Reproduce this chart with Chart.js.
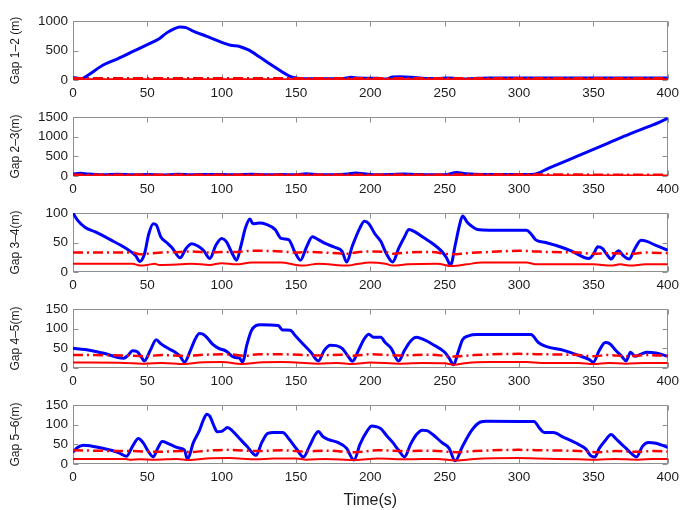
<!DOCTYPE html>
<html>
<head>
<meta charset="utf-8">
<script src="https://cdn.jsdelivr.net/npm/chart.js@4/dist/chart.umd.min.js"></script>
<style>
  html, body { margin: 0; padding: 0; background: #fff; }
  #wrap { position: relative; width: 684px; height: 510px; overflow: hidden; }
  .panel { position: absolute; left: 0; width: 684px; }
</style>
</head>
<body>
<div id="wrap"></div>
<script>
// ---- shared time axis ----
const timeTicks = [0, 50, 100, 150, 200, 250, 300, 350, 400];
const timeTitle = 'Time(s)';

// ---- Gap 1–2 ----
const gap12Title = 'Gap 1\u20132 (m)';
const gap12Ticks = [0, 500, 1000];
const gap12ActualT = [0,3,6,10,20,30,40,50,58,63,68,72,76,80,90,100,106,112,118,125,132,140,146,150,155,165,175,182,187,192,200,205,210,215,220,228,235,245,252,258,263,270,280,300,350,400];
const gap12ActualV = [40,30,25,80,250,360,480,600,700,800,870,900,890,840,740,640,590,570,510,400,280,150,60,35,20,20,20,25,45,35,30,30,15,50,55,45,30,25,35,25,15,25,35,35,35,35];
const gap12SafeT = [0,100,200,300,400];
const gap12SafeV = [28,30,29,31,29];
const gap12MinT = [0,100,200,300,400];
const gap12MinV = [12,13,12,14,12];

// ---- Gap 2–3 ----
const gap23Title = 'Gap 2\u20133(m)';
const gap23Ticks = [0, 500, 1000, 1500];
const gap23ActualT = [0,5,10,20,30,40,50,60,70,80,90,100,110,120,130,140,150,157,165,175,185,190,196,205,215,222,230,240,250,258,265,275,290,305,310,320,340,360,375,390,400];
const gap23ActualV = [50,70,50,30,45,30,40,25,45,35,40,40,30,45,30,40,30,60,35,30,50,75,55,30,40,50,40,30,30,90,55,40,40,40,45,200,520,840,1080,1300,1470];
const gap23SafeT = [0,100,200,300,400];
const gap23SafeV = [33,35,34,36,33];
const gap23MinT = [0,100,200,300,400];
const gap23MinV = [13,15,14,16,13];

// ---- Gap 3–4 ----
const gap34Title = 'Gap 3\u20134(m)';
const gap34Ticks = [0, 50, 100];
const gap34ActualT = [0,3,8,15,25,35,42,45,48,51,54,56,59,63,67,72,76,80,84,88,92,96,100,103,107,110,113,116,119,121,125,130,136,140,145,149,153,157,161,165,170,176,181,184,188,193,196,199,203,207,211,215,219,223,226,230,236,242,248,251,254,257,260,262,265,268,272,280,305,308,311,318,325,335,347,350,353,356,359,362,365,367,370,374,378,382,386,392,400];
const gap34ActualV = [100,88,76,68,55,41,28,18,30,65,82,80,60,50,40,24,40,48,44,36,23,45,57,52,32,20,45,75,90,82,83,81,72,57,55,35,20,42,60,55,48,42,35,17,45,75,86,82,65,52,30,17,40,60,72,68,58,48,35,25,12,45,80,95,85,78,72,71,71,65,55,50,45,36,23,30,43,40,30,22,32,36,28,22,40,54,52,45,37];
const gap34SafeT = [0,15,40,45,50,60,72,80,92,100,110,120,140,150,160,185,190,200,210,215,225,240,255,265,280,300,310,320,340,350,360,375,385,400];
const gap34SafeV = [33,33,33,30,31,33,34,35,33,34,34,36,35,33,34,31,33,35,34,31,33,34,30,32,34,36,35,34,33,31,32,31,33,32];
const gap34MinT = [0,40,45,50,55,58,72,80,92,100,110,120,140,150,155,165,185,190,200,210,215,225,245,255,265,275,305,312,350,362,368,375,385,400];
const gap34MinV = [14,14,11,12,14,12,13,14,12,15,13,16,16,12,11,14,11,13,16,14,11,13,14,10,13,16,16,13,13,11,13,11,13,13];

// ---- Gap 4–5 ----
const gap45Title = 'Gap 4\u20135(m)';
const gap45Ticks = [0, 50, 100, 150];
const gap45ActualT = [0,8,20,34,37,40,43,46,48,52,56,59,63,68,72,75,79,82,85,87,90,94,98,103,107,110,112,114,117,120,123,126,138,141,146,150,155,160,165,169,173,177,181,185,188,192,196,199,202,207,210,214,219,223,227,231,236,242,250,253,256,259,262,266,272,308,313,318,330,343,347,350,354,358,361,365,369,372,375,378,382,386,392,400];
const gap45ActualV = [50,47,38,25,32,44,42,28,18,45,72,62,52,42,30,15,45,72,88,87,78,60,50,43,30,26,25,15,60,95,108,110,108,97,96,80,60,40,18,45,58,57,50,30,17,45,75,86,78,78,65,50,18,45,68,78,72,60,40,25,8,40,72,82,85,85,65,55,45,28,22,15,45,65,62,45,30,18,40,30,35,40,38,30];
const gap45SafeT = [0,35,48,60,75,90,105,115,125,140,165,180,188,200,220,240,256,270,300,315,340,350,360,372,385,400];
const gap45SafeV = [33,32,30,33,31,34,35,31,35,35,32,34,31,35,32,34,29,33,36,35,33,30,33,30,33,31];
const gap45MinT = [0,35,48,60,75,85,100,114,125,140,150,165,178,188,200,220,235,250,256,265,280,305,315,340,350,360,372,385,400];
const gap45MinV = [14,13,11,13,10,14,15,10,14,15,14,11,13,10,14,11,13,12,8,13,15,15,13,13,10,13,11,13,13];

// ---- Gap 5–6 ----
const gap56Title = 'Gap 5\u20136(m)';
const gap56Ticks = [0, 50, 100, 150];
const gap56ActualT = [0,3,7,12,20,30,36,40,44,47,51,54,57,60,64,68,72,75,77,81,85,88,90,92,95,97,100,104,107,112,117,123,127,131,135,141,145,150,155,159,163,165,168,172,178,184,189,193,198,201,204,207,211,215,219,223,227,231,235,238,242,248,253,257,262,268,274,278,310,314,317,323,330,340,345,348,351,354,358,362,365,369,372,376,379,383,387,392,396,400];
const gap56ActualV = [30,42,48,46,40,30,20,45,65,55,30,18,40,57,52,45,40,35,12,55,85,115,127,122,95,82,83,93,85,65,45,22,55,78,80,80,65,40,18,45,75,83,70,62,55,40,10,50,85,97,95,90,72,55,35,18,50,75,86,85,75,55,40,8,45,85,107,109,108,90,80,80,68,50,38,22,18,40,60,75,65,50,40,25,18,45,55,53,48,42];
const gap56SafeT = [0,35,40,55,75,78,90,105,123,140,155,170,190,205,225,240,258,270,300,315,340,352,365,380,390,400];
const gap56SafeV = [35,33,33,31,33,30,34,36,33,35,32,34,30,35,33,34,30,33,36,35,33,30,33,31,33,32];
const gap56MinT = [0,35,38,45,55,70,78,90,105,123,135,150,157,170,190,205,225,245,258,270,300,312,340,352,365,380,390,400];
const gap56MinV = [13,13,11,12,11,13,10,14,15,12,14,14,11,13,10,14,12,13,9,13,15,14,12,11,13,11,13,13];

// ---- layout constants ----
const PAD_LEFT = 4, PLOT_LEFT = 73, PLOT_RIGHT = 672, PLOT_H = 63, PAD_TOP = 9;
const AXIS_GRAY = '#8f8f8f';
const TEXT_COLOR = '#1c1c1c';
const FONT = "'Liberation Sans', Arial, Helvetica, sans-serif";
const TICK_FONT = { family: FONT, size: 13.5 };

const zip = (t, v) => t.map((x, i) => ({ x, y: v[i] }));

// MATLAB-style box with inward tick marks on all four sides
const boxTicks = {
  id: 'boxTicks',
  beforeDatasetsDraw(chart) {
    const { ctx, chartArea: a, scales: { x, y } } = chart;
    ctx.save();
    ctx.strokeStyle = AXIS_GRAY;
    ctx.lineWidth = 1;
    const L = Math.round(a.left) + 0.5, R = Math.round(a.right) - 0.5;
    const T = Math.round(a.top) + 0.5, B = Math.round(a.bottom) - 0.5;
    ctx.strokeRect(L, T, R - L, B - T);
    ctx.beginPath();
    x.ticks.forEach(t => {
      const px = Math.round(x.getPixelForValue(t.value)) + 0.5;
      ctx.moveTo(px, B); ctx.lineTo(px, B - 5);
      ctx.moveTo(px, T); ctx.lineTo(px, T + 5);
    });
    y.ticks.forEach(t => {
      const py = Math.round(y.getPixelForValue(t.value)) + 0.5;
      ctx.moveTo(L, py); ctx.lineTo(L + 5, py);
      ctx.moveTo(R, py); ctx.lineTo(R - 5, py);
    });
    ctx.stroke();
    ctx.restore();
  }
};

const panels = [
  { title: gap12Title, ticks: gap12Ticks, a: [gap12ActualT, gap12ActualV], s: [gap12SafeT, gap12SafeV], m: [gap12MinT, gap12MinV] },
  { title: gap23Title, ticks: gap23Ticks, a: [gap23ActualT, gap23ActualV], s: [gap23SafeT, gap23SafeV], m: [gap23MinT, gap23MinV] },
  { title: gap34Title, ticks: gap34Ticks, a: [gap34ActualT, gap34ActualV], s: [gap34SafeT, gap34SafeV], m: [gap34MinT, gap34MinV] },
  { title: gap45Title, ticks: gap45Ticks, a: [gap45ActualT, gap45ActualV], s: [gap45SafeT, gap45SafeV], m: [gap45MinT, gap45MinV] },
  { title: gap56Title, ticks: gap56Ticks, a: [gap56ActualT, gap56ActualV], s: [gap56SafeT, gap56SafeV], m: [gap56MinT, gap56MinV] }
];

const wrap = document.getElementById('wrap');
const plain = v => String(v);

panels.forEach((p, i) => {
  const last = i === panels.length - 1;
  const plotTop = 17 + 96 * i;
  const xAxisH = last ? 46 : 25;
  const height = PAD_TOP + PLOT_H + xAxisH;

  const div = document.createElement('div');
  div.className = 'panel';
  div.style.top = (plotTop - PAD_TOP) + 'px';
  div.style.height = height + 'px';
  const canvas = document.createElement('canvas');
  div.appendChild(canvas);
  wrap.appendChild(div);

  const yMax = p.ticks[p.ticks.length - 1];

  new Chart(canvas, {
    type: 'line',
    data: {
      datasets: [
        { data: zip(p.s[0], p.s[1]), borderColor: '#ff0000', borderWidth: 2.5, borderDash: [10, 4, 2, 4], pointRadius: 0, cubicInterpolationMode: 'monotone' },
        { data: zip(p.m[0], p.m[1]), borderColor: '#ff0000', borderWidth: 2, pointRadius: 0, cubicInterpolationMode: 'monotone' },
        { data: zip(p.a[0], p.a[1]), borderColor: '#0000ff', borderWidth: 3, pointRadius: 0, cubicInterpolationMode: 'monotone' }
      ]
    },
    options: {
      responsive: true,
      maintainAspectRatio: false,
      animation: false,
      events: [],
      layout: { padding: { left: PAD_LEFT, right: 684 - PLOT_RIGHT, top: PAD_TOP, bottom: 0 } },
      plugins: { legend: { display: false }, tooltip: { enabled: false } },
      scales: {
        x: {
          type: 'linear',
          min: 0, max: 400,
          afterBuildTicks: s => { s.ticks = timeTicks.map(v => ({ value: v })); },
          afterFit: s => { s.height = xAxisH; },
          grid: { display: false, drawTicks: false },
          border: { display: false },
          ticks: { autoSkip: false, maxRotation: 0, padding: 5, color: TEXT_COLOR, font: TICK_FONT, callback: plain },
          title: { display: last, text: timeTitle, color: TEXT_COLOR, font: { family: FONT, size: 16 }, padding: { top: 4, bottom: 0 } }
        },
        y: {
          type: 'linear',
          min: 0, max: yMax,
          afterBuildTicks: s => { s.ticks = p.ticks.map(v => ({ value: v })); },
          afterFit: s => { s.width = PLOT_LEFT - PAD_LEFT; },
          grid: { display: false, drawTicks: false },
          border: { display: false },
          ticks: { padding: 5, color: TEXT_COLOR, font: TICK_FONT, callback: plain },
          title: { display: true, text: p.title, color: TEXT_COLOR, font: { family: FONT, size: 12 } }
        }
      }
    },
    plugins: [boxTicks]
  });
});
</script>
</body>
</html>
